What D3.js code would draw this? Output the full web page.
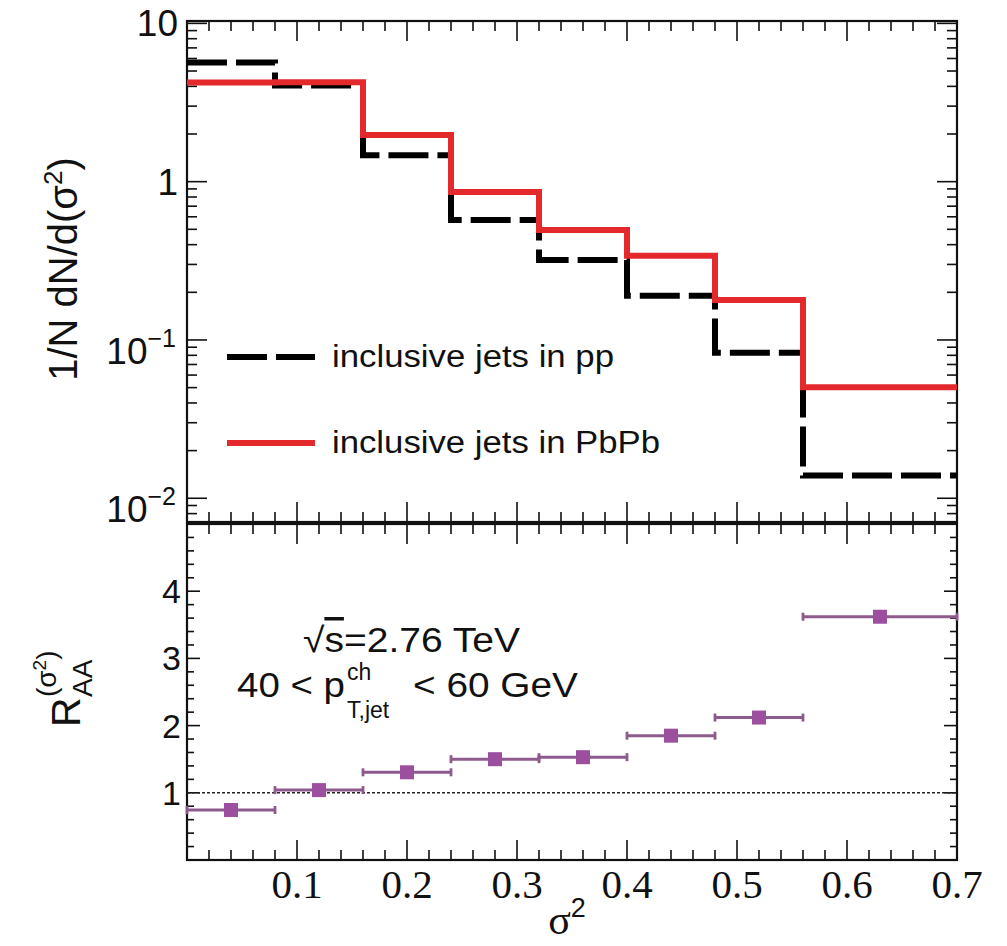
<!DOCTYPE html>
<html><head><meta charset="utf-8">
<script src="https://cdn.jsdelivr.net/npm/d3@7"></script>
<style>body{margin:0;background:#fff} text{font-family:"Liberation Sans",Arial,sans-serif;fill:#111}</style>
</head><body><svg id="c" width="1007" height="946"></svg>
<script>
// ---------- data ----------
const binEdges = [0, 0.08, 0.16, 0.24, 0.32, 0.40, 0.48, 0.56, 0.70];
const ppValues = [5.65, 4.05, 1.47, 0.573, 0.32, 0.19, 0.083, 0.0139];
const pbpbValues = [4.23, 4.25, 1.97, 0.861, 0.495, 0.34, 0.179, 0.0502];
const ratioX = [0.04, 0.12, 0.20, 0.28, 0.36, 0.44, 0.52, 0.63];
const ratioValues = [0.744, 1.04, 1.305, 1.50, 1.53, 1.85, 2.12, 3.62];
const xTickValues = [0.1, 0.2, 0.3, 0.4, 0.5, 0.6, 0.7];
const xTickLabels = ["0.1", "0.2", "0.3", "0.4", "0.5", "0.6", "0.7"];
const topYTicks = [0.01, 0.1, 1, 10];
const topYLabels = [["10", "\u22122"], ["10", "\u22121"], ["1", ""], ["10", ""]];
const bottomYTicks = [1, 2, 3, 4];
const bottomYLabels = ["1", "2", "3", "4"];
const legendLabels = ["inclusive jets in pp", "inclusive jets in PbPb"];

// ---------- layout ----------
const svg = d3.select("#c");
svg.append("rect").attr("width", 1007).attr("height", 946).attr("fill", "#fff");
const L = 187, R = 957, T0 = 21, T1 = 522, B0 = 524, B1 = 860;
const x = d3.scaleLinear().domain([0, 0.7]).range([L, R]);
const yTop = d3.scaleLog().domain([0.00708, 10.35]).range([T1, T0]);
const yBot = d3.scaleLinear().domain([0, 5]).range([B1, B0]);
const axisColor = "#111";

function tick(x1, y1, x2, y2, w) {
  svg.append("line").attr("x1", x1).attr("y1", y1).attr("x2", x2).attr("y2", y2)
    .attr("stroke", axisColor).attr("stroke-width", w || 1.6);
}

// x ticks (minor every 0.02)
const xMinor = d3.range(1, 35).map(i => +(i * 0.02).toFixed(2));
xMinor.forEach(v => {
  const major = Math.abs(v * 10 - Math.round(v * 10)) < 1e-6;
  const len = major ? 20 : 10;
  const px = x(v);
  tick(px, T0, px, T0 + len);
  tick(px, T1, px, T1 - len);
  tick(px, B0, px, B0 + len);
  tick(px, B1, px, B1 - len);
});

// top panel log ticks
const logTicks = [];
for (let d = -3; d <= 1; d++) for (let k = 1; k <= 9; k++) {
  const v = k * Math.pow(10, d);
  if (v >= 0.00708 && v <= 10.35) logTicks.push({v, major: k === 1});
}
logTicks.forEach(t => {
  const py = yTop(t.v), len = t.major ? 20 : 10;
  tick(L, py, L + len, py);
  tick(R, py, R - len, py);
});

// bottom panel linear ticks (minor every 0.2)
d3.range(1, 25).map(i => +(i * 0.2).toFixed(1)).forEach(v => {
  const major = Math.abs(v - Math.round(v)) < 1e-6;
  const py = yBot(v), len = major ? 13 : 7;
  tick(L, py, L + len, py);
  tick(R, py, R - len, py);
});

// frames
[[T0, T1], [B0, B1]].forEach(([a, b]) => {
  svg.append("rect").attr("x", L).attr("y", a).attr("width", R - L).attr("height", b - a)
    .attr("fill", "none").attr("stroke", axisColor).attr("stroke-width", 2.2);
});

// tick labels
const serif = '"Liberation Serif","Times New Roman",serif';
xTickValues.forEach((v, i) => {
  svg.append("text").attr("x", x(v)).attr("y", 898).attr("text-anchor", "middle")
    .style("font-family", serif).style("font-size", "41px").text(xTickLabels[i]);
});
topYTicks.forEach((v, i) => {
  const [base, exp] = topYLabels[i];
  const t = svg.append("text").attr("y", yTop(v) + (exp ? 24 : 13))
    .attr("text-anchor", "end").style("font-size", "37px");
  if (exp) {
    t.attr("x", 176);
    t.append("tspan").text(base);
    t.append("tspan").attr("dy", -17).style("font-size", "25px").text(exp);
  } else {
    t.attr("x", 178).text(base);
  }
});
bottomYTicks.forEach((v, i) => {
  svg.append("text").attr("x", 181).attr("y", yBot(v) + 12).attr("text-anchor", "end")
    .style("font-size", "34px").text(bottomYLabels[i]);
});

// axis titles
svg.append("text").attr("transform", "translate(77,269) rotate(-90)").attr("text-anchor", "middle")
  .style("font-size", "40px")
  .call(t => {
    t.append("tspan").text("1/N dN/d(\u03c3");
    t.append("tspan").attr("dy", -15).style("font-size", "26px").text("2");
    t.append("tspan").attr("dy", 15).text(")");
  });

const ra = svg.append("g").attr("transform", "translate(80,727) rotate(-90)");
ra.append("text").attr("x", 0).attr("y", 0).style("font-size", "41px").text("R");
ra.append("text").attr("x", 30).attr("y", 12).style("font-size", "28px").text("AA");
ra.append("text").attr("x", 30).attr("y", -24).style("font-size", "28px")
  .call(t => {
    t.append("tspan").text("(\u03c3");
    t.append("tspan").attr("dy", -10).style("font-size", "19px").text("2");
    t.append("tspan").attr("dy", 10).text(")");
  });

svg.append("text").attr("x", 567).attr("y", 934).attr("text-anchor", "middle")
  .style("font-family", serif).style("font-size", "42px")
  .call(t => {
    t.append("tspan").text("\u03c3");
    t.append("tspan").attr("dy", -17).style("font-size", "27px").style("font-family", '"Liberation Sans",Arial,sans-serif').text("2");
  });

// ---------- histograms ----------
svg.append("clipPath").attr("id", "topclip").append("rect")
  .attr("x", L).attr("y", T0).attr("width", R - L).attr("height", T1 - T0);
function stepPoints(vals) {
  const pts = [];
  vals.forEach((v, i) => { pts.push([binEdges[i], v]); pts.push([binEdges[i + 1], v]); });
  return pts;
}
const line = d3.line().x(d => x(d[0])).y(d => yTop(d[1]));
const hg = svg.append("g").attr("clip-path", "url(#topclip)");
hg.append("path").attr("d", line(stepPoints(ppValues))).attr("fill", "none")
  .attr("stroke", "#000").attr("stroke-width", 6).attr("stroke-dasharray", "40,9");
hg.append("path").attr("d", line(stepPoints(pbpbValues))).attr("fill", "none")
  .attr("stroke", "#e3292c").attr("stroke-width", 6);

// legend
const legY = [357, 443];
svg.append("line").attr("x1", 227).attr("x2", 315).attr("y1", legY[0]).attr("y2", legY[0])
  .attr("stroke", "#000").attr("stroke-width", 6).attr("stroke-dasharray", "40,9");
svg.append("line").attr("x1", 227).attr("x2", 315).attr("y1", legY[1]).attr("y2", legY[1])
  .attr("stroke", "#e3292c").attr("stroke-width", 6);
legendLabels.forEach((s, i) => {
  svg.append("text").attr("x", 332).attr("y", legY[i] + 10).style("font-size", "31px")
    .attr("textLength", i === 0 ? 282 : 328).attr("lengthAdjust", "spacingAndGlyphs").text(s);
});

// ---------- ratio panel ----------
svg.append("line").attr("x1", L).attr("x2", R).attr("y1", yBot(1)).attr("y2", yBot(1))
  .attr("stroke", "#222").attr("stroke-width", 1.4).attr("stroke-dasharray", "3,2");
const barColor = "#8e5a8e", markColor = "#9c4f9e";
ratioValues.forEach((v, i) => {
  const py = yBot(v), xa = x(binEdges[i]), xb = x(binEdges[i + 1]);
  svg.append("line").attr("x1", xa).attr("x2", xb).attr("y1", py).attr("y2", py)
    .attr("stroke", barColor).attr("stroke-width", 3);
  [xa, xb].forEach(cx => svg.append("line").attr("x1", cx).attr("x2", cx)
    .attr("y1", py - 4).attr("y2", py + 4).attr("stroke", barColor).attr("stroke-width", 2.8));
  svg.append("rect").attr("x", x(ratioX[i]) - 7).attr("y", py - 7).attr("width", 14).attr("height", 14)
    .attr("fill", markColor);
});

// annotations
const a1 = svg.append("text").attr("x", 303).attr("y", 652).style("font-size", "35px")
  .attr("textLength", 217).attr("lengthAdjust", "spacingAndGlyphs");
a1.append("tspan").text("\u221a");
a1.append("tspan").style("text-decoration", "overline").text("s");
a1.append("tspan").text("=2.76 TeV");
svg.append("text").attr("x", 237).attr("y", 697).style("font-size", "35px")
  .attr("textLength", 108).attr("lengthAdjust", "spacingAndGlyphs").text("40 < p");
svg.append("text").attr("x", 347).attr("y", 680).style("font-size", "23px").text("ch");
svg.append("text").attr("x", 347).attr("y", 718).style("font-size", "23px").text("T,jet");
svg.append("text").attr("x", 413).attr("y", 697).style("font-size", "35px")
  .attr("textLength", 165).attr("lengthAdjust", "spacingAndGlyphs").text("< 60 GeV");
</script></body></html>
